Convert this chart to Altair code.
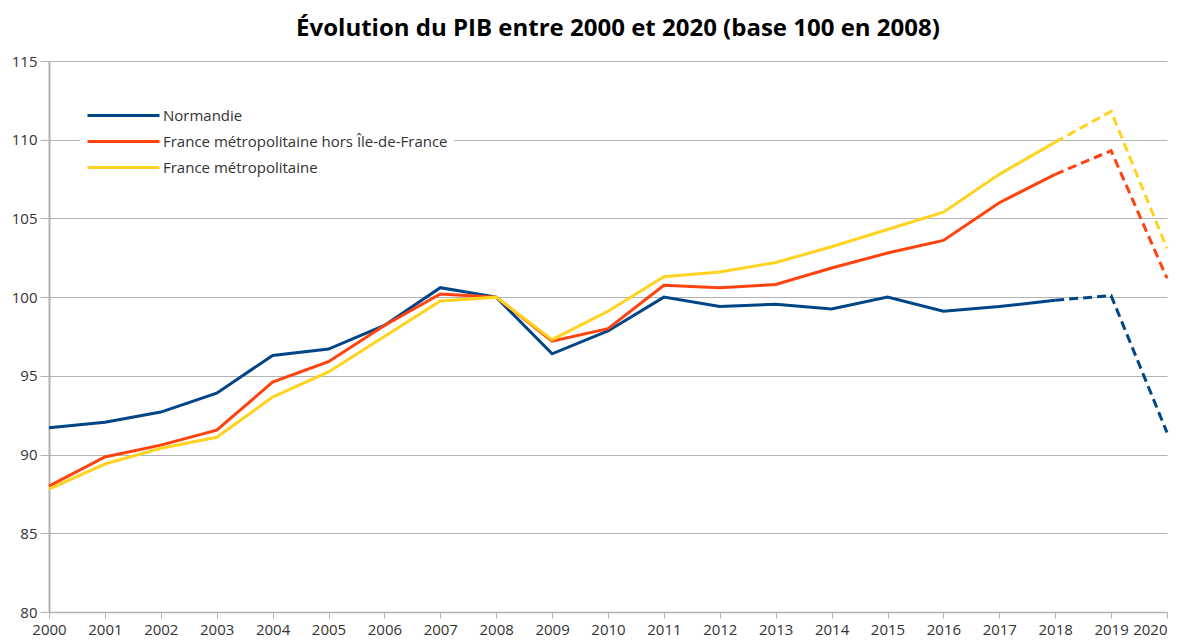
import altair as alt
import pandas as pd

years = list(range(2000, 2021))
series_names = ["Normandie", "France métropolitaine hors Île-de-France", "France métropolitaine"]
normandie = [91.7, 92.05, 92.7, 93.9, 96.3, 96.7, 98.2, 100.6, 100.0, 96.4, 97.85,
             100.0, 99.4, 99.55, 99.25, 100.0, 99.1, 99.4, 99.8, 100.1, 91.4]
hors_idf = [88.0, 89.85, 90.6, 91.55, 94.6, 95.9, 98.2, 100.2, 100.0, 97.2, 98.0,
            100.75, 100.6, 100.8, 101.85, 102.8, 103.6, 106.0, 107.8, 109.3, 101.2]
france = [87.8, 89.4, 90.4, 91.1, 93.65, 95.25, 97.5, 99.75, 100.0, 97.3, 99.1,
          101.3, 101.6, 102.2, 103.2, 104.3, 105.4, 107.8, 109.85, 111.8, 103.1]
colors = ["#004586", "#ff420e", "#ffd320"]
y_ticks = [80, 85, 90, 95, 100, 105, 110, 115]
last_solid_year = 2018

rows = []
for name, vals in zip(series_names, [normandie, hors_idf, france]):
    for yr, v in zip(years, vals):
        rows.append({"annee": yr, "valeur": v, "serie": name})
df = pd.DataFrame(rows)

FONT = "Open Sans"

x = alt.X("annee:Q", scale=alt.Scale(domain=[2000, 2020], nice=False),
          axis=alt.Axis(values=years, format="d", title=None, grid=False,
                        tickSize=6, labelPadding=4, labelFontSize=15, labelFlush=False,
                        labelAlign={"condition": {"test": "datum.value >= 2020", "value": "right"},
                                    "value": "center"},
                        labelColor="#333333", domainColor="#b3b3b3", tickColor="#b3b3b3",
                        domainWidth=1.5, labelFont=FONT, labelOverlap=False))
y = alt.Y("valeur:Q", scale=alt.Scale(domain=[80, 115], nice=False, zero=False),
          axis=alt.Axis(values=y_ticks, title=None, grid=True, gridColor="#b3b3b3",
                        tickSize=9, labelPadding=3, labelFontSize=15,
                        labelColor="#333333", domainColor="#b3b3b3", tickColor="#b3b3b3",
                        domainWidth=2, labelFont=FONT))
color = alt.Color("serie:N", scale=alt.Scale(domain=series_names, range=colors),
                  sort=series_names,
                  legend=alt.Legend(title=None, orient="none", legendX=31, legendY=35,
                                    fillColor="white", padding=6,
                                    symbolType="M-1,0H5", symbolSize=576,
                                    symbolStrokeWidth=3, labelOffset=50,
                                    rowPadding=4, labelFontSize=15, labelLimit=0,
                                    labelColor="#333333", labelFont=FONT))

solid = alt.Chart(df).transform_filter(alt.datum.annee <= last_solid_year).mark_line(
    strokeWidth=3).encode(x=x, y=y, color=color)
dashed = alt.Chart(df).transform_filter(alt.datum.annee >= last_solid_year).mark_line(
    strokeWidth=3, strokeDash=[9, 5]).encode(x=x, y=y, color=alt.Color("serie:N", legend=None))

chart = alt.layer(solid, dashed).properties(
    width=1118, height=551,
    title=alt.TitleParams("Évolution du PIB entre 2000 et 2020 (base 100 en 2008)",
                          font=FONT, fontSize=24, fontWeight="bold", color="#000000",
                          anchor="middle", dx=10, offset=13),
    autosize=alt.AutoSizeParams(type="none"),
    padding={"left": 41, "top": 53, "right": 9, "bottom": 30},
).configure_view(stroke=None)

chart.save("out.html", embed_options={"renderer": "svg", "actions": False})
